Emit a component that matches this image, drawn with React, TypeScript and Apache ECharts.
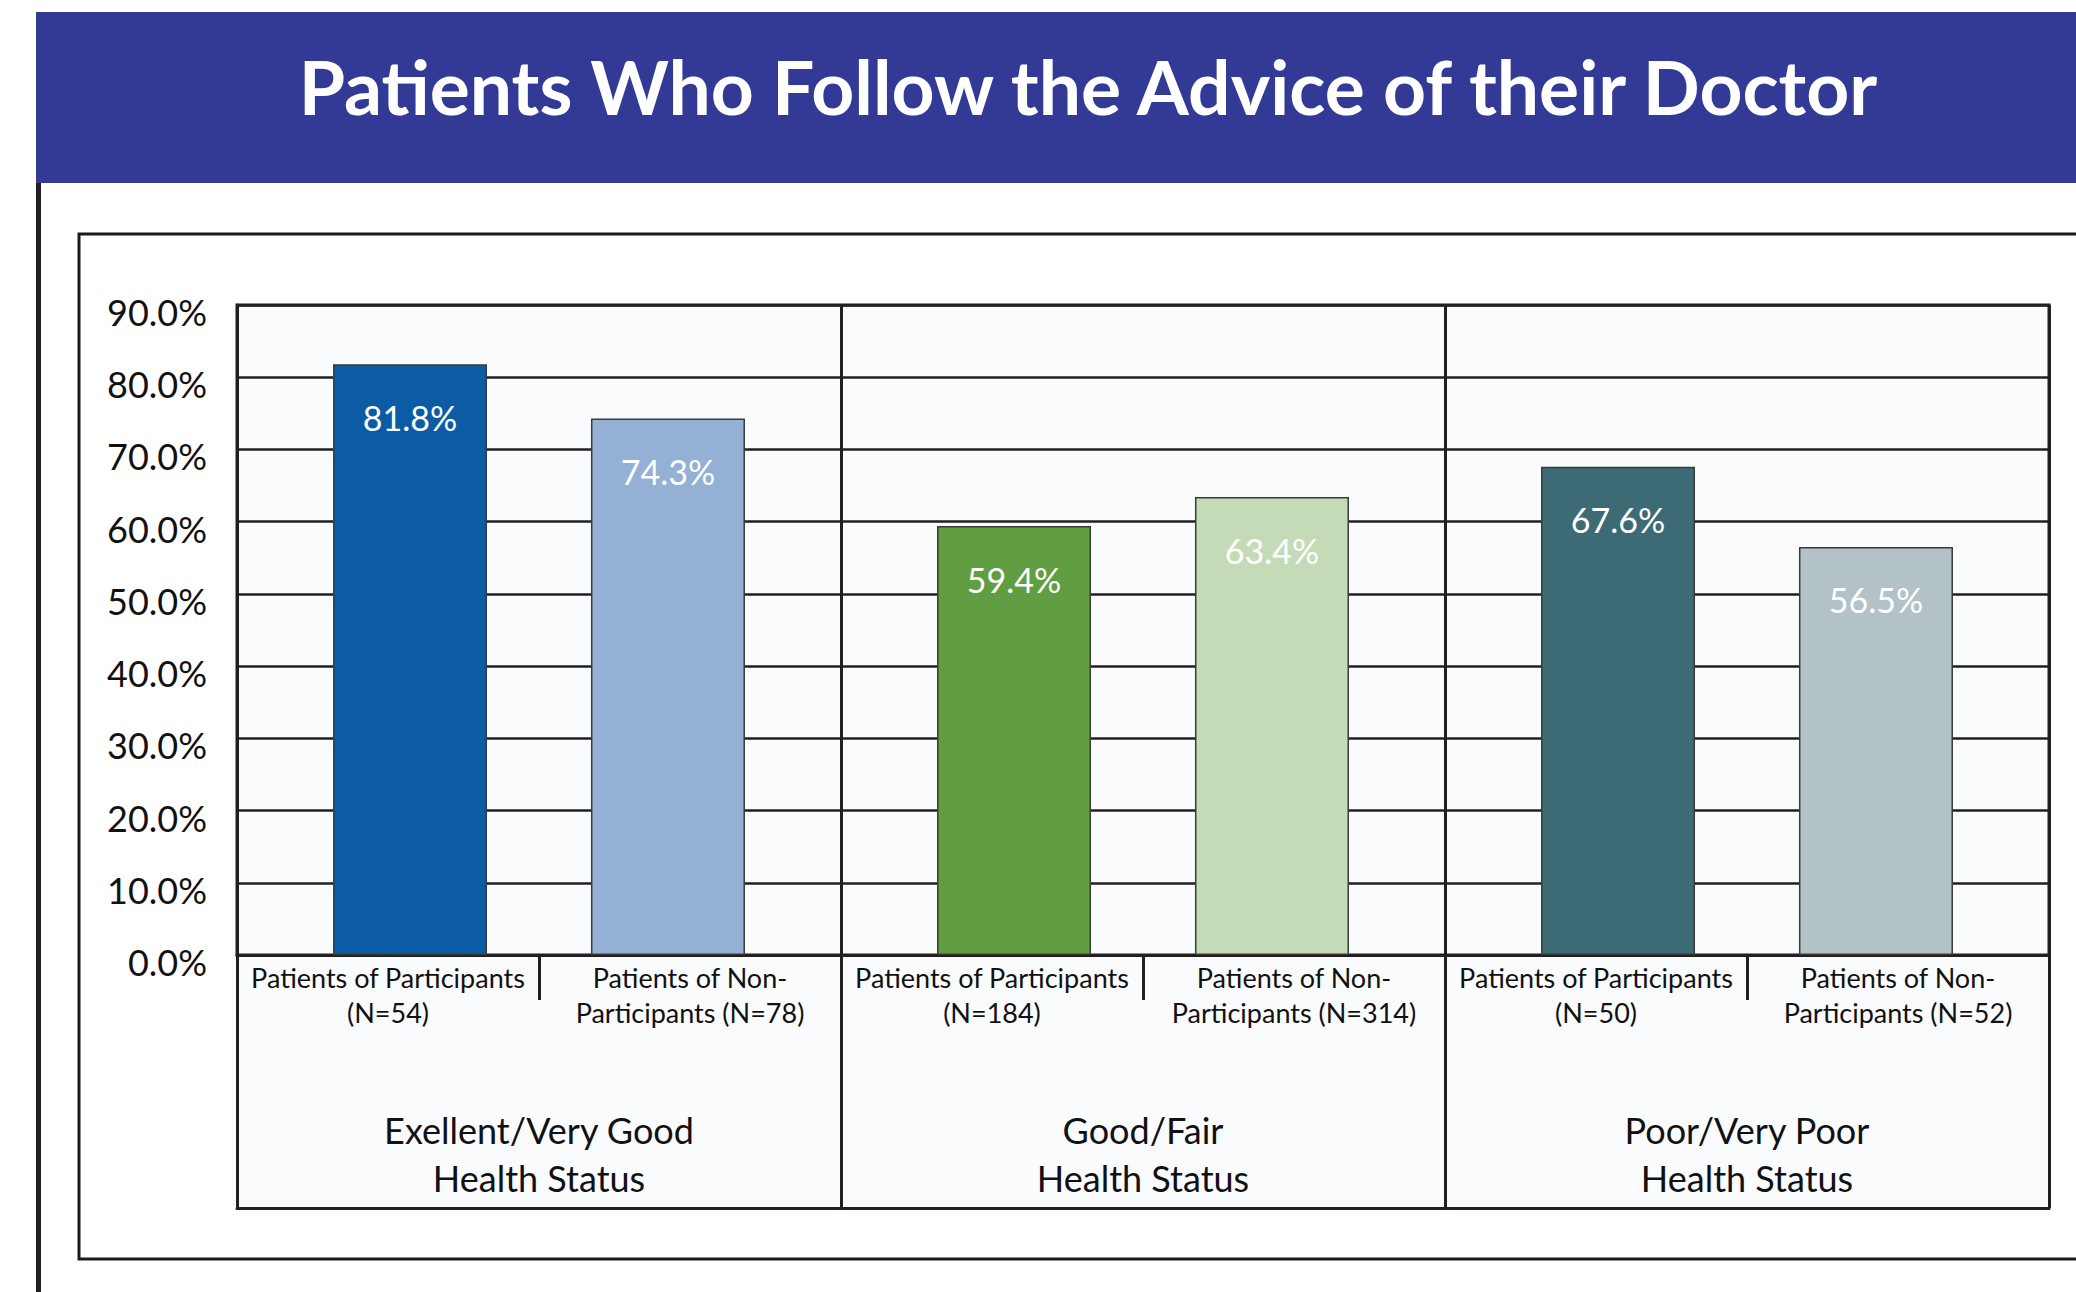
import React, { useEffect, useRef } from "react";
import * as echarts from "echarts";

const TITLE = "Patients Who Follow the Advice of their Doctor";
const groupLabels = [
  "Exellent/Very Good\nHealth Status",
  "Good/Fair\nHealth Status",
  "Poor/Very Poor\nHealth Status",
];
const subLabels = [
  "Patients of Participants\n(N=54)",
  "Patients of Non-\nParticipants (N=78)",
  "Patients of Participants\n(N=184)",
  "Patients of Non-\nParticipants (N=314)",
  "Patients of Participants\n(N=50)",
  "Patients of Non-\nParticipants (N=52)",
];
const participants = [81.8, 59.4, 67.6];
const nonParticipants = [74.3, 63.4, 56.5];
const participantColors = ["#0b5ca4", "#619e41", "#3d6b75"];
const nonParticipantColors = ["#94b1d5", "#c5dbb8", "#b3c2c7"];
const yMin = 0;
const yMax = 90;
const yStep = 10;

const W = 2076;
const H = 1292;
const GRID_LEFT = 237;
const GRID_RIGHT_X = 2049;
const GRID_TOP = 305;
const GRID_BOTTOM_Y = 955;
const TABLE_H = 253;
const DARK = "#231f20";
const FONT = "Lato";

export default function App() {
  const ref = useRef<HTMLDivElement>(null);
  useEffect(() => {
    if (!ref.current) return;
    const chart = echarts.init(ref.current, undefined, { renderer: "svg" });
    const barStyle = (colors: string[]) => (v: number, i: number) => ({
      value: v,
      itemStyle: { color: colors[i], borderColor: "#3a3a3a", borderWidth: 1.5 },
    });
    const valueLabel = {
      show: true,
      position: "insideTop",
      distance: 36,
      color: "#ffffff",
      fontFamily: FONT,
      fontSize: 34,
      formatter: (p: any) => Number(p.value).toFixed(1) + "%",
    };
    chart.setOption({
      animation: false,
      backgroundColor: "#ffffff",
      grid: {
        left: GRID_LEFT,
        right: W - GRID_RIGHT_X,
        top: GRID_TOP,
        bottom: H - GRID_BOTTOM_Y,
        show: true,
        backgroundColor: "#f9fbfd",
        borderColor: DARK,
        borderWidth: 3,
        outerBoundsMode: "none",
      },
      graphic: [
        { type: "rect", z: -10, shape: { x: 36, y: 12, width: W - 36, height: 171 }, style: { fill: "#333a96" } },
        { type: "rect", z: -10, shape: { x: 36, y: 183, width: 5, height: H - 183 }, style: { fill: DARK } },
        {
          type: "rect",
          z: -10,
          shape: { x: 79, y: 234, width: 2100, height: 1025 },
          style: { fill: "#ffffff", stroke: "#1a1a1a", lineWidth: 3 },
        },
        {
          type: "rect",
          z: -5,
          shape: { x: GRID_LEFT, y: GRID_BOTTOM_Y, width: GRID_RIGHT_X - GRID_LEFT, height: TABLE_H },
          style: { fill: "#f9fbfd" },
        },
        {
          type: "text",
          z: 10,
          x: 1088,
          y: 86,
          style: {
            text: TITLE,
            fill: "#ffffff",
            fontFamily: FONT,
            fontWeight: "bold",
            fontSize: 75,
            align: "center",
            verticalAlign: "middle",
          },
        },
      ],
      xAxis: [
        {
          type: "category",
          data: groupLabels,
          position: "bottom",
          offset: 0,
          axisLine: { show: true, lineStyle: { color: DARK, width: 3 } },
          axisTick: { show: true, length: TABLE_H, lineStyle: { color: DARK, width: 3 } },
          splitLine: { show: true, lineStyle: { color: DARK, width: 3 } },
          axisLabel: {
            interval: 0,
            margin: 151,
            color: "#111111",
            fontFamily: FONT,
            fontSize: 36,
            lineHeight: 48,
          },
        },
        {
          type: "category",
          data: subLabels,
          position: "bottom",
          offset: 0,
          axisLine: { show: false },
          axisTick: { show: true, length: 45, lineStyle: { color: DARK, width: 3 } },
          splitLine: { show: false },
          axisLabel: {
            interval: 0,
            margin: 5,
            color: "#111111",
            fontFamily: FONT,
            fontSize: 27,
            lineHeight: 35,
          },
        },
        {
          type: "category",
          data: groupLabels,
          position: "bottom",
          offset: TABLE_H,
          axisLine: { show: true, lineStyle: { color: DARK, width: 3 } },
          axisTick: { show: false },
          splitLine: { show: false },
          axisLabel: { show: false },
        },
      ],
      yAxis: {
        type: "value",
        min: yMin,
        max: yMax,
        interval: yStep,
        axisLine: { show: true, lineStyle: { color: DARK, width: 3 } },
        axisTick: { show: false },
        splitLine: { show: true, lineStyle: { color: DARK, width: 2.5 } },
        axisLabel: {
          margin: 30,
          verticalAlign: "top",
          lineHeight: 14,
          color: "#111111",
          fontFamily: FONT,
          fontSize: 36,
          formatter: (v: number) => v.toFixed(1) + "%",
        },
      },
      series: [
        {
          name: "Patients of Participants",
          type: "bar",
          xAxisIndex: 0,
          barWidth: 154,
          barGap: "67.5%",
          data: participants.map(barStyle(participantColors)),
          label: valueLabel,
        },
        {
          name: "Patients of Non-Participants",
          type: "bar",
          xAxisIndex: 0,
          barWidth: 154,
          barGap: "67.5%",
          data: nonParticipants.map(barStyle(nonParticipantColors)),
          label: valueLabel,
        },
      ],
    });
    return () => chart.dispose();
  }, []);
  return (
    <div
      ref={ref}
      style={{ position: "fixed", left: 0, top: 0, width: W, height: H, background: "#ffffff" }}
    />
  );
}
